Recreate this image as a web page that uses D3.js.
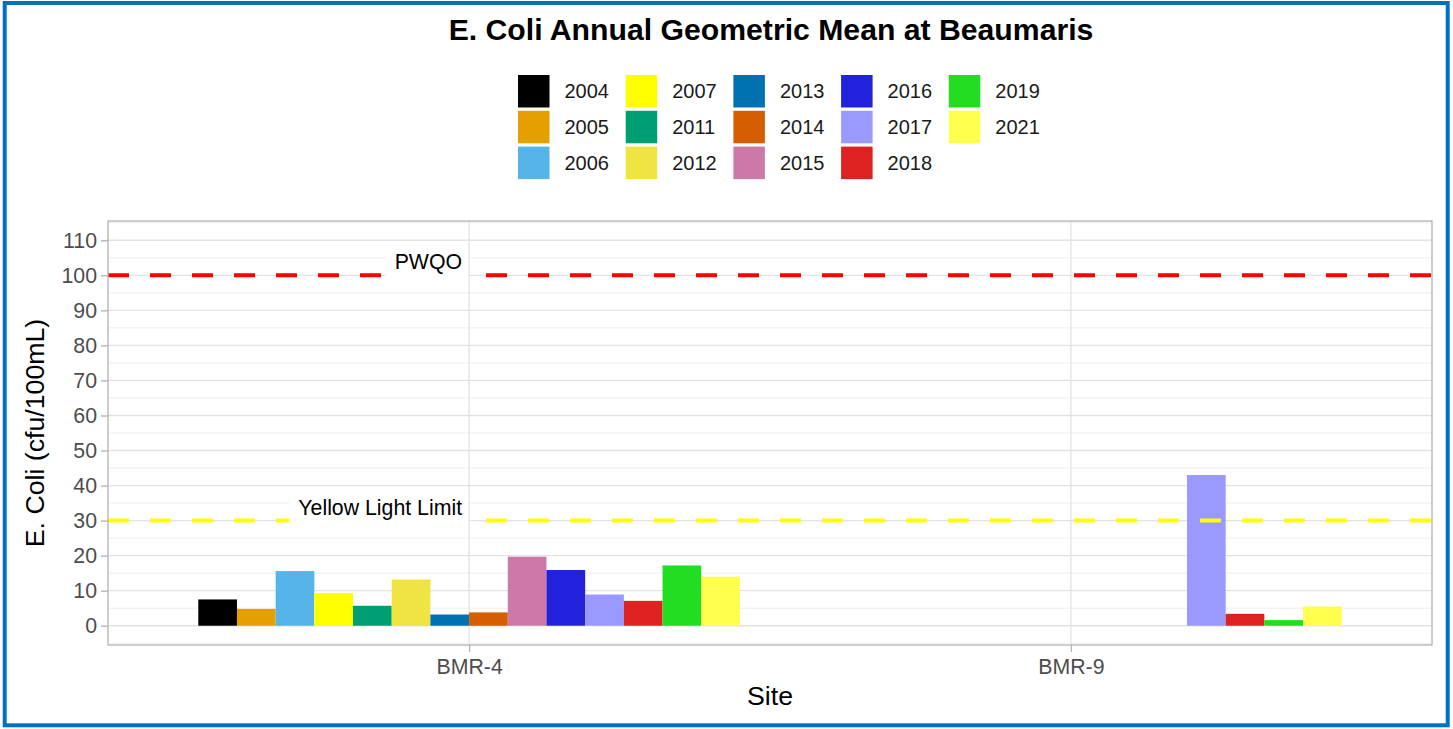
<!DOCTYPE html>
<html>
<head>
<meta charset="utf-8">
<script src="https://cdn.jsdelivr.net/npm/d3@7"></script>
<style>
  html, body { margin: 0; padding: 0; background: #fff; }
  svg { display: block; font-family: "Liberation Sans", Arial, sans-serif; }
</style>
</head>
<body>
<svg id="chart" width="1453" height="729"></svg>
<script>
// ---------------- data ----------------
const sites = ["BMR-4", "BMR-9"];
const years = ["2004", "2005", "2006", "2007", "2011", "2012", "2013", "2014", "2015", "2016", "2017", "2018", "2019", "2021"];
const yearColors = ["#000000", "#E69F00", "#56B4E9", "#FFFF00", "#009E73", "#F0E442", "#0072B2", "#D55E00", "#CC79A7", "#2222DD", "#9999FF", "#DD2222", "#22DD22", "#FFFF4D"];
const bmr4Values = [7.5, 4.8, 15.6, 9.3, 5.7, 13.2, 3.2, 3.8, 19.7, 15.9, 8.9, 7.1, 17.2, 14.0];
const bmr9Values = [null, null, null, null, null, null, null, null, null, null, 43.0, 3.4, 1.6, 5.5];
const yTicks = [0, 10, 20, 30, 40, 50, 60, 70, 80, 90, 100, 110];
const limitValues = [100, 30];
const limitLabels = ["PWQO", "Yellow Light Limit"];
const limitColors = ["#FF0000", "#FFFF00"];

const titleText = "E. Coli Annual Geometric Mean at Beaumaris";
const xTitle = "Site";
const yTitle = "E. Coli (cfu/100mL)";

// ---------------- layout ----------------
const svg = d3.select("#chart");
const panel = { left: 108, right: 1432, top: 221, bottom: 645 };

// outer blue frame
svg.append("rect")
  .attr("x", 4.7).attr("y", 3).attr("width", 1443).attr("height", 722.3)
  .attr("fill", "none").attr("stroke", "#0070C0").attr("stroke-width", 4);

const x = d3.scalePoint().domain(sites).range([panel.left, panel.right]).padding(0.6);
const dodgeWidth = x.step() * 0.9;
const xInner = d3.scaleBand().domain(years).range([-dodgeWidth / 2, dodgeWidth / 2]).padding(0);
const y = d3.scaleLinear().domain([-5.5, 115.5]).range([panel.bottom, panel.top]);
const color = d3.scaleOrdinal().domain(years).range(yearColors);

// grid
const g = svg.append("g");
const minorTicks = d3.range(-5, 116, 10).filter(v => v > -5.5 && v < 115.5);
g.selectAll("line.minor").data(minorTicks).enter().append("line")
  .attr("x1", panel.left).attr("x2", panel.right)
  .attr("y1", d => y(d)).attr("y2", d => y(d))
  .attr("stroke", "#ececec").attr("stroke-width", 0.9);
g.selectAll("line.major").data(yTicks).enter().append("line")
  .attr("x1", panel.left).attr("x2", panel.right)
  .attr("y1", d => y(d)).attr("y2", d => y(d))
  .attr("stroke", "#e3e3e3").attr("stroke-width", 1.3);
g.selectAll("line.vmajor").data(sites).enter().append("line")
  .attr("x1", d => x(d)).attr("x2", d => x(d))
  .attr("y1", panel.top).attr("y2", panel.bottom)
  .attr("stroke", "#e3e3e3").attr("stroke-width", 1.3);

// bars
const barData = [];
years.forEach((yr, i) => {
  if (bmr4Values[i] != null) barData.push({ site: "BMR-4", year: yr, value: bmr4Values[i] });
  if (bmr9Values[i] != null) barData.push({ site: "BMR-9", year: yr, value: bmr9Values[i] });
});
svg.append("g").selectAll("rect").data(barData).enter().append("rect")
  .attr("x", d => x(d.site) + xInner(d.year))
  .attr("width", xInner.bandwidth())
  .attr("y", d => y(d.value))
  .attr("height", d => y(0) - y(d.value))
  .attr("fill", d => color(d.year));

// reference lines
svg.append("g").selectAll("line").data(limitValues).enter().append("line")
  .attr("x1", panel.left).attr("x2", panel.right)
  .attr("y1", d => y(d)).attr("y2", d => y(d))
  .attr("stroke", (d, i) => limitColors[i])
  .attr("stroke-width", 4)
  .attr("stroke-dasharray", "21,21");

// labels for reference lines
const lab = svg.append("g");
limitValues.forEach((v, i) => {
  const cy = y(v + 3.8);
  const t = lab.append("text")
    .attr("x", x("BMR-4") - 7)
    .attr("y", cy)
    .attr("dy", "0.35em")
    .attr("text-anchor", "end")
    .attr("font-size", "21.3px")
    .attr("fill", "#000")
    .text(limitLabels[i]);
  const bb = t.node().getBBox();
  lab.insert("rect", "text")
    .attr("x", bb.x - 9).attr("y", cy - 16)
    .attr("width", bb.width + 9 + 6).attr("height", 32)
    .attr("fill", "#fff");
});

// panel border
svg.append("rect")
  .attr("x", panel.left).attr("y", panel.top)
  .attr("width", panel.right - panel.left).attr("height", panel.bottom - panel.top)
  .attr("fill", "none").attr("stroke", "#b3b3b3").attr("stroke-width", 1.3);

// y axis
const yAxis = d3.axisLeft(y).tickValues(yTicks).tickSize(7).tickPadding(4).tickFormat(d3.format("d"));
const ya = svg.append("g").attr("transform", `translate(${panel.left},0)`).call(yAxis);
ya.select(".domain").remove();
ya.selectAll(".tick line").attr("stroke", "#b3b3b3").attr("stroke-width", 1.3);
ya.selectAll(".tick text").attr("fill", "#4d4d4d").attr("font-size", "21.3px")
  .attr("font-family", "Liberation Sans, Arial, sans-serif");

// x axis
const xAxis = d3.axisBottom(x).tickSize(7).tickPadding(6);
const xa = svg.append("g").attr("transform", `translate(0,${panel.bottom})`).call(xAxis);
xa.select(".domain").remove();
xa.selectAll(".tick line").attr("stroke", "#b3b3b3").attr("stroke-width", 1.3);
xa.selectAll(".tick text").attr("fill", "#4d4d4d").attr("font-size", "21.3px")
  .attr("font-family", "Liberation Sans, Arial, sans-serif")
  .attr("dy", null).attr("y", 29);

// axis titles
svg.append("text").attr("x", (panel.left + panel.right) / 2).attr("y", 705)
  .attr("text-anchor", "middle").attr("font-size", "26.7px").attr("fill", "#000").text(xTitle);
svg.append("text")
  .attr("transform", `translate(44,${(panel.top + panel.bottom) / 2}) rotate(-90)`)
  .attr("text-anchor", "middle").attr("font-size", "26.7px").attr("fill", "#000").text(yTitle);

// title
svg.append("text").attr("x", 771).attr("y", 40)
  .attr("text-anchor", "middle").attr("font-size", "30.2px").attr("font-weight", "bold")
  .attr("fill", "#000").text(titleText);

// legend (3 rows, column-major)
const legend = svg.append("g");
const nRows = 3;
years.forEach((yr, i) => {
  const col = Math.floor(i / nRows), row = i % nRows;
  const kx = 518 + col * 107.7, ky = 75 + row * 35.8;
  legend.append("rect").attr("x", kx).attr("y", ky).attr("width", 31.5).attr("height", 32.5)
    .attr("fill", color(yr));
  legend.append("text").attr("x", kx + 46.5).attr("y", ky + 16.3).attr("dy", "0.35em")
    .attr("font-size", "20px").attr("fill", "#1a1a1a").text(yr);
});
</script>
</body>
</html>
